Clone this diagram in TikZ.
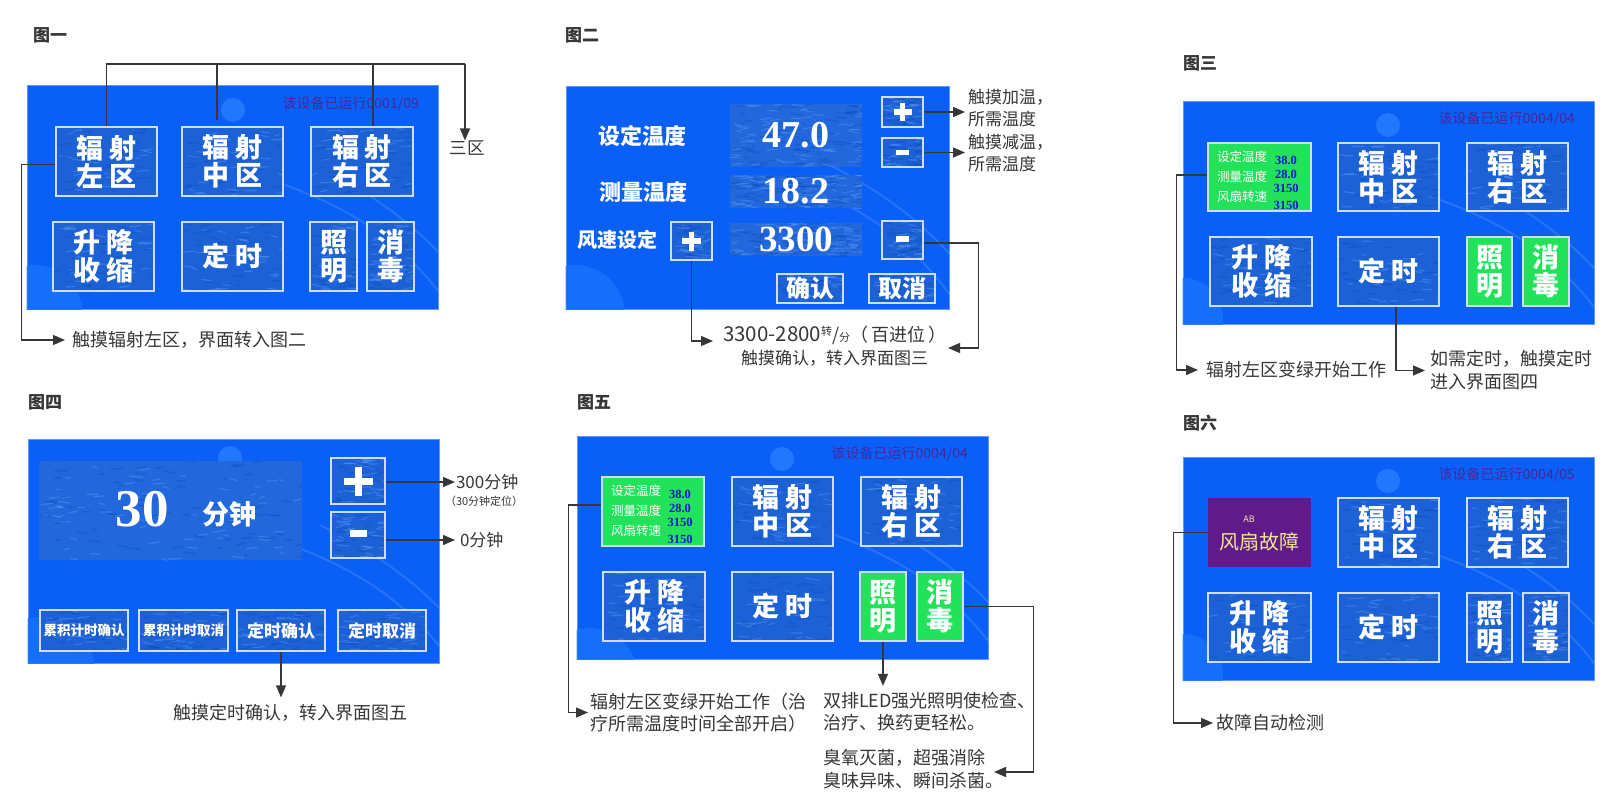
\documentclass[tikz,border=0pt]{standalone}
\usepackage{fontspec}
\setmainfont{Noto Sans CJK SC}
\newfontfamily\tnr{Liberation Serif}
\usetikzlibrary{arrows.meta,calc}
\definecolor{panelblue}{RGB}{10,96,246}
\definecolor{btnblue}{RGB}{28,98,214}
\definecolor{texblue}{RGB}{34,104,220}
\definecolor{btnedge}{RGB}{205,222,255}
\definecolor{lgreen}{RGB}{34,226,90}
\definecolor{fpurple}{RGB}{96,26,138}
\definecolor{statc}{RGB}{72,40,150}
\definecolor{inkc}{RGB}{55,55,55}
\definecolor{valblue}{RGB}{20,20,220}
\definecolor{faultyel}{RGB}{240,230,150}
\definecolor{circc}{RGB}{45,130,255}
\definecolor{circb}{RGB}{25,115,252}
\definecolor{speckL}{RGB}{110,170,255}
\definecolor{speckD}{RGB}{10,70,180}
\tikzset{
  tex/.style={path picture={
    \foreach \k in {1,...,#1}{
      \pgfmathsetmacro\ax{rnd}\pgfmathsetmacro\ay{rnd}
      \pgfmathsetmacro\ln{4+9*rnd}\pgfmathsetmacro\dy{4*rnd-2}
      \pgfmathsetmacro\pk{rnd}
      \coordinate (tx) at ($(path picture bounding box.west)!\ax!(path picture bounding box.east)$);
      \coordinate (ty) at ($(path picture bounding box.north)!\ay!(path picture bounding box.south)$);
      \ifdim\pk pt>0.5pt
        \draw[speckL, opacity=.33, line width=1.2pt, line cap=round] (tx |- ty) -- ++(\ln,\dy);
      \else
        \draw[speckD, opacity=.33, line width=1.4pt, line cap=round] (tx |- ty) -- ++(\ln,\dy);
      \fi
    }}},
  panel/.style={fill=panelblue, draw=panelblue!65!white, line width=0.8pt, inner sep=0},
  btn/.style={fill=btnblue, tex=55, draw=btnedge, line width=1.3pt, text=white, inner sep=0, align=center, font=\fontsize{27}{28}\selectfont\bfseries},
  btnG/.style={fill=lgreen, draw=btnedge, line width=1.3pt, text=white, inner sep=0, align=center, font=\fontsize{27}{28}\selectfont\bfseries},
  btnP/.style={fill=fpurple, draw=none, inner sep=0},
  texbox/.style={fill=texblue, tex=140, draw=none, inner sep=0, text=white},
  conn/.style={draw=inkc, line width=1.3pt},
  arr/.style={conn, -{Triangle[length=12pt,width=10pt]}},
  lab/.style={text=inkc, inner sep=0, outer sep=0, anchor=west, align=left, font=\fontsize{18}{22}\selectfont},
  labs/.style={lab, font=\fontsize{17}{22}\selectfont},
  ttl/.style={text=inkc, inner sep=0, font=\fontsize{17}{17}\selectfont\bfseries},
  stat/.style={text=statc, inner sep=0, anchor=east, font=\fontsize{14}{14}\selectfont},
  gl/.style={text=white, inner sep=0, anchor=west, font=\fontsize{12.5}{12.5}\selectfont},
  gv/.style={text=valblue, inner sep=0, font=\fontsize{12.5}{12.5}\selectfont\tnr\bfseries},
  decs/.style={fill=circc, opacity=.7},
  decb/.style={fill=circb, opacity=.8},
  swoosh/.style={draw=white, opacity=.12, line width=2pt},
  pm/.style={draw=white, line width=5.5pt},
}
\newcommand\ubox[7][]{\node[#1,minimum width={#5pt-#3pt},minimum height={#6pt-#4pt}] (#2) at ({(#3+#5)/2},{(#4+#6)/2}) {#7};}
\newcommand\tw[2]{#1\hspace{6pt}#2}
\newcommand\gcontent[3]{%
  \node[gl] (#3a) at ({#1+9},{#2+14}) {设定温度};
  \node[gl] (#3b) at ({#1+9},{#2+34}) {测量温度};
  \node[gl] (#3c) at ({#1+9},{#2+54}) {风扇转速};
  \node[gv] (#3d) at ({#1+78},{#2+17}) {38.0};
  \node[gv] (#3e) at ({#1+78},{#2+31}) {28.0};
  \node[gv] (#3f) at ({#1+78},{#2+45}) {3150};
  \node[gv] (#3g) at ({#1+78},{#2+62}) {3150};}
\newcommand\decor[8]{% panel, small circle x y, big circle x y r, swoosh start x y
  \begin{scope}
    \clip (#1.south west) rectangle (#1.north east);
    \fill[decs] (#2,#3) circle (12);
    \fill[decb] (#4,#5) circle (#6);
    \draw[swoosh] (#7,#8) .. controls ({#7+70},{#8+25}) and ({#7+120},{#8+60}) .. ({#7+160},{#8+115});
    \draw[swoosh] ({#7+30},{#8-20}) .. controls ({#7+90},{#8+10}) and ({#7+130},{#8+40}) .. ({#7+165},{#8+80});
  \end{scope}}
\begin{document}
\begin{tikzpicture}[x=1pt,y=-1pt]
\pgfmathsetseed{4242}
\useasboundingbox[fill=white] (0,0) rectangle (1617,808);

%================ 图一
\node[ttl] (T1) at (50,35) {图一};
\ubox[panel]{P1}{27}{85}{438}{309}{}
\decor{P1}{233}{110}{35}{312}{47}{285}{185}
\node[stat] (S1) at (419,104) {该设备已运行0001/09};
\ubox[btn]{b1L}{56}{127}{157}{196}{\tw{辐}{射}\\\tw{左}{区}}
\ubox[btn]{b1M}{182}{127}{283}{196}{\tw{辐}{射}\\\tw{中}{区}}
\ubox[btn]{b1R}{311}{127}{413}{196}{\tw{辐}{射}\\\tw{右}{区}}
\ubox[btn]{b1S}{53}{222}{154}{291}{\tw{升}{降}\\\tw{收}{缩}}
\ubox[btn]{b1T}{182}{222}{283}{291}{\tw{定}{时}}
\ubox[btn]{b1Z}{310}{222}{357}{291}{照\\明}
\ubox[btn]{b1X}{367}{222}{414}{291}{消\\毒}
\node[lab] (lab1) at (72,340) {触摸辐射左区，界面转入图二};
\node[text=inkc, inner sep=0, font=\fontsize{17.5}{18}\selectfont] (sanqu) at (467,148) {三区};
\coordinate (top1) at (465,64);
\coordinate (m1) at ([xshift=-15.5pt,yshift=6pt]b1M.north);
\coordinate (r1) at ([xshift=11pt]b1R.north);
\draw[conn] (b1L.north) -- (b1L.north |- top1) -- (top1);
\draw[conn] (m1) -- (m1 |- top1);
\draw[conn] (r1) -- (r1 |- top1);
\draw[arr] (top1) -- (top1 |- sanqu.north);
\draw[arr, shorten >=7pt] ([yshift=-3pt]b1L.west) -- ++(-34,0) |- (lab1.west);

%================ 图二
\node[ttl] (T2) at (582,35) {图二};
\ubox[panel]{P2}{566}{86}{949}{309}{}
\decor{P2}{760}{60}{575}{315}{50}{790}{180}
\node[text=white, inner sep=0, font=\fontsize{22}{22}\selectfont\bfseries] (L2a) at (642,136) {设定温度};
\node[text=white, inner sep=0, font=\fontsize{22}{22}\selectfont\bfseries] (L2b) at (643,192) {测量温度};
\node[text=white, inner sep=0, font=\fontsize{20}{20}\selectfont\bfseries] (L2c) at (617,240) {风速设定};
\ubox[texbox, font=\fontsize{38}{38}\selectfont\tnr\bfseries]{v2a}{730}{104}{862}{167}{47.0}
\ubox[texbox, font=\fontsize{38}{38}\selectfont\tnr\bfseries]{v2b}{730}{175}{862}{208}{18.2}
\ubox[texbox, font=\fontsize{37}{37}\selectfont\tnr\bfseries]{v2c}{730}{223}{862}{256}{3300}
\ubox[btn]{p2a}{882}{97}{923}{127}{}
\ubox[btn]{m2a}{882}{138}{923}{167}{}
\ubox[btn]{m2b}{882}{221}{923}{259}{}
\ubox[btn]{p2b}{671}{222}{712}{260}{}
\draw[pm] ($(p2a.center)+(-9,0)$) -- ++(18,0);
\draw[pm] ($(p2a.center)+(0,-9)$) -- ++(0,18);
\draw[pm] ($(m2a.center)+(-6.5,0)$) -- ++(13,0);
\draw[pm] ($(m2b.center)+(-6.5,-1)$) -- ++(13,0);
\draw[pm] ($(p2b.center)+(-9.5,0)$) -- ++(19,0);
\draw[pm] ($(p2b.center)+(0,-9.5)$) -- ++(0,19);
\ubox[btn, font=\fontsize{24}{24}\selectfont\bfseries]{ok2}{777}{274}{843}{303}{确认}
\ubox[btn, font=\fontsize{24}{24}\selectfont\bfseries]{no2}{869}{274}{935}{303}{取消}
\node[labs] (lab2a) at (968,108) {触摸加温，\\所需温度};
\node[labs] (lab2b) at (968,153.5) {触摸减温，\\所需温度};
\node[lab] (lab2c) at (723,335) {{\fontsize{20.5}{22}\selectfont 3300-2800}\raisebox{6pt}{\fontsize{11}{11}\selectfont 转}/{\fontsize{11}{11}\selectfont 分}（\,百进位\,）};
\node[labs, anchor=east] (lab2d) at (928,358) {触摸确认，转入界面图三};
\draw[arr, shorten >=3pt] (p2a.east) -- (p2a.east -| lab2a.west);
\draw[arr, shorten >=3pt] (m2a.east) -- (m2a.east -| lab2b.west);
\draw[arr, shorten >=10pt] (p2b.south) |- ([yshift=-6pt]lab2c.west);
\coordinate (r2) at (948,348);
\draw[arr] ([yshift=-3pt]m2b.east) -- ++(55,0) |- (r2);

%================ 图三
\node[ttl] (T3) at (1200,63) {图三};
\ubox[panel]{P3}{1183}{101}{1594}{324}{}
\decor{P3}{1388}{125}{1183}{318}{40}{1440}{200}
\node[stat] (S3) at (1575,119) {该设备已运行0004/04};
\ubox[btnG]{g3}{1208}{143}{1311}{211}{}
\gcontent{1208}{143}{g3t}
\ubox[btn]{b3M}{1338}{143}{1439}{211}{\tw{辐}{射}\\\tw{中}{区}}
\ubox[btn]{b3R}{1467}{143}{1568}{211}{\tw{辐}{射}\\\tw{右}{区}}
\ubox[btn]{b3S}{1210}{237}{1312}{306}{\tw{升}{降}\\\tw{收}{缩}}
\ubox[btn]{b3T}{1338}{237}{1439}{306}{\tw{定}{时}}
\ubox[btnG]{b3Z}{1467}{237}{1512}{306}{照\\明}
\ubox[btnG]{b3X}{1523}{237}{1569}{306}{消\\毒}
\node[lab] (lab3a) at (1206,370) {辐射左区变绿开始工作};
\node[lab, font=\fontsize{18}{23}\selectfont] (lab3b) at (1430,370.5) {如需定时，触摸定时\\进入界面图四};
\draw[arr, shorten >=8pt] ([yshift=2pt]g3.west) -- ++(-31,0) |- (lab3a.west);
\coordinate (d3s) at ([xshift=7.5pt]b3T.south);
\draw[arr, shorten >=5pt] (d3s) |- (lab3b.west);

%================ 图四
\node[ttl] (T4) at (45,402) {图四};
\ubox[panel]{P4}{28}{439}{439}{663}{}
\decor{P4}{230}{458}{40}{672}{55}{290}{545}
\ubox[texbox]{t4}{39}{461}{302}{560}{}
\node[text=white, inner sep=0, font=\fontsize{53}{53}\selectfont\tnr\bfseries] (n4) at (142,509) {30};
\node[text=white, inner sep=0, font=\fontsize{27}{27}\selectfont\bfseries] (u4) at (229,514) {分钟};
\ubox[btn]{p4}{331}{458}{385}{504}{}
\ubox[btn]{m4}{331}{512}{385}{558}{}
\draw[pm, line width=7pt] ($(p4.center)+(-14.5,0)$) -- ++(29,0);
\draw[pm, line width=7pt] ($(p4.center)+(0,-14.5)$) -- ++(0,29);
\draw[pm, line width=7pt] ($(m4.center)+(-8.5,-2)$) -- ++(17,0);
\ubox[btn, font=\fontsize{13.5}{14}\selectfont\bfseries]{a4}{40}{610}{128}{651}{累积计时确认}
\ubox[btn, font=\fontsize{13.5}{14}\selectfont\bfseries]{bb4}{139}{610}{228}{651}{累积计时取消}
\ubox[btn, font=\fontsize{17}{17}\selectfont\bfseries]{c4}{237}{610}{325}{651}{定时确认}
\ubox[btn, font=\fontsize{17}{17}\selectfont\bfseries]{d4}{338}{610}{426}{651}{定时取消}
\node[labs] (lab4a) at (456,482) {300分钟};
\node[lab, font=\fontsize{11}{11}\selectfont] (lab4b) at (445,501) {（30分钟定位）};
\node[labs] (lab4c) at (460,540) {0分钟};
\node[lab, anchor=center] (lab4d) at (290,713) {触摸定时确认，转入界面图五};
\draw[arr, shorten >=1pt] (p4.east |- lab4a.west) -- (lab4a.west);
\draw[arr, shorten >=5pt] (m4.east |- lab4c.west) -- (lab4c.west);
\draw[arr, shorten >=7pt] (c4.south) -- (c4.south |- lab4d.north);

%================ 图五
\node[ttl] (T5) at (594,402) {图五};
\ubox[panel]{P5}{577}{436}{988}{659}{}
\decor{P5}{782}{459}{590}{675}{47}{835}{535}
\node[stat] (S5) at (968,454) {该设备已运行0004/04};
\ubox[btnG]{g5}{602}{477}{704}{546}{}
\gcontent{602}{477}{g5t}
\ubox[btn]{b5M}{732}{477}{833}{546}{\tw{辐}{射}\\\tw{中}{区}}
\ubox[btn]{b5R}{861}{477}{962}{546}{\tw{辐}{射}\\\tw{右}{区}}
\ubox[btn]{b5S}{603}{572}{705}{641}{\tw{升}{降}\\\tw{收}{缩}}
\ubox[btn]{b5T}{732}{572}{833}{641}{\tw{定}{时}}
\ubox[btnG]{b5Z}{860}{572}{906}{641}{照\\明}
\ubox[btnG]{b5X}{917}{572}{963}{641}{消\\毒}
\node[lab, font=\fontsize{18}{21.5}\selectfont] (lab5a) at (590,712.5) {辐射左区变绿开始工作（治\\疗所需温度时间全部开启）};
\node[lab, font=\fontsize{18}{22.5}\selectfont] (lab5b) at (823,711.5) {双排LED强光照明使检查、\\治疗、换药更轻松。};
\node[lab, font=\fontsize{18}{23}\selectfont] (lab5c) at (823,769.5) {臭氧灭菌，超强消除\\臭味异味、瞬间杀菌。};
\draw[arr, shorten >=2pt] ([yshift=6.5pt]g5.west) -- ++(-33,0) |- (lab5a.west);
\draw[arr, shorten >=6pt] (b5Z.south) -- (b5Z.south |- lab5b.north);
\coordinate (r5) at (994,772);
\draw[arr] (b5X.east) -- ++(70,0) |- (r5);

%================ 图六
\node[ttl] (T6) at (1200,423) {图六};
\ubox[panel]{P6}{1183}{457}{1594}{680}{}
\decor{P6}{1388}{481}{1183}{674}{40}{1440}{556}
\node[stat] (S6) at (1575,475) {该设备已运行0004/05};
\ubox[btnP]{f6}{1208}{498}{1311}{567}{}
\node[text=faultyel, inner sep=0, font=\fontsize{9}{9}\selectfont] (ab6) at (1249,519) {AB};
\node[text=faultyel, inner sep=0, font=\fontsize{20}{20}\selectfont] (ft6) at (1259,542) {风扇故障};
\ubox[btn]{b6M}{1338}{498}{1439}{567}{\tw{辐}{射}\\\tw{中}{区}}
\ubox[btn]{b6R}{1467}{498}{1568}{567}{\tw{辐}{射}\\\tw{右}{区}}
\ubox[btn]{b6S}{1208}{593}{1311}{662}{\tw{升}{降}\\\tw{收}{缩}}
\ubox[btn]{b6T}{1338}{593}{1439}{662}{\tw{定}{时}}
\ubox[btn]{b6Z}{1467}{593}{1512}{662}{照\\明}
\ubox[btn]{b6X}{1523}{593}{1569}{662}{消\\毒}
\node[lab] (lab6) at (1216,723) {故障自动检测};
\draw[arr, shorten >=3pt] (f6.west) -- ++(-34,0) |- (lab6.west);
\end{tikzpicture}
\end{document}
